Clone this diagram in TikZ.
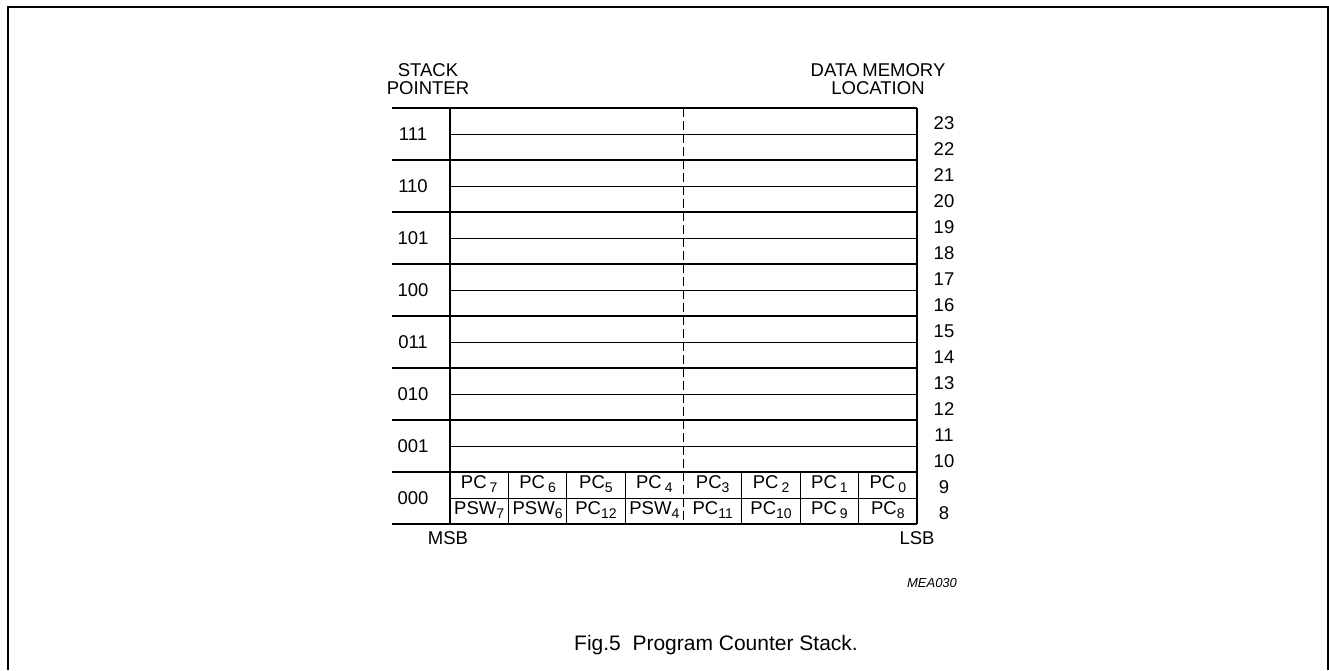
\documentclass[tikz,border=0pt]{standalone}
\usepackage{fontspec}
\setmainfont{Liberation Sans}
\usetikzlibrary{positioning}

\newcommand{\lblfont}{\fontsize{18.5}{18}\selectfont}
\newcommand{\cellfont}{\fontsize{18.5}{19}\selectfont}
\newcommand{\sbs}[1]{\raisebox{-0.4ex}{\fontsize{14}{14}\selectfont #1}}

\tikzset{
  grp/.style={line width=1.4pt},
  half/.style={line width=0.8pt},
  lbl/.style={font=\lblfont, inner sep=0pt},
  cell/.style={font=\cellfont, inner sep=0pt}
}

\begin{document}
\begin{tikzpicture}[x=1pt, y=-1pt]
  \useasboundingbox (0,0) rectangle (1329,670);
  % frame
  \draw[line width=2pt] (7.5,670) -- (7.5,6.5) -- (1327.5,6.5) -- (1327.5,670);

  % headings
  \node[lbl, align=center] (sp) at (428,79) {STACK\\POINTER};
  \node[lbl, align=center] (dml) at (878,79) {DATA MEMORY\\LOCATION};

  % stack rows
  \foreach \p [count=\i from 0] in {111,110,101,100,011,010,001,000} {
    \pgfmathsetmacro{\yt}{108+52*\i}
    \pgfmathtruncatemacro{\hi}{23-2*\i}
    \pgfmathtruncatemacro{\lo}{22-2*\i}
    \draw[grp] (392,\yt) -- (917,\yt);
    \draw[half] (450,\yt+26) -- (917,\yt+26);
    \node[lbl] (sp\i) at (413,\yt+26) {\p};
    \node[lbl] (hi\i) at (944,\yt+15) {\hi};
    \node[lbl] (lo\i) at (944,\yt+41) {\lo};
  }
  \draw[grp] (392,524) -- (917,524);
  \draw[grp] (450,108) -- (450,524);
  \draw[grp] (917,108) -- (917,524);
  \draw[half, dash pattern=on 9pt off 4pt] (683.5,108) -- (683.5,524);

  % register 000 cells
  \foreach \k in {1,2,3,5,6,7}
    \draw[half] (450+58.375*\k,472) -- (450+58.375*\k,524);
  \foreach \t [count=\k from 0] in {{PC\,\sbs{7}},{PC\,\sbs{6}},{PC\sbs{5}},{PC\,\sbs{4}},
      {PC\sbs{3}},{PC\,\sbs{2}},{PC\,\sbs{1}},{PC\,\sbs{0}}}
    \node[cell] (h\k) at (479.2+58.375*\k,484) {\t};
  \foreach \t [count=\k from 0] in {{PSW\sbs{7}},{PSW\sbs{6}},{PC\sbs{12}},{PSW\sbs{4}},
      {PC\sbs{11}},{PC\sbs{10}},{PC\,\sbs{9}},{PC\sbs{8}}}
    \node[cell] (l\k) at (479.2+58.375*\k,510) {\t};

  \node[lbl] (msb) at (448,538) {MSB};
  \node[lbl] (lsb) at (917,538) {LSB};
  \node[font=\fontsize{13}{15}\selectfont\itshape, inner sep=0pt] (ref) at (932,583) {MEA030};
  \node[font=\fontsize{21}{24}\selectfont, inner sep=0pt] (cap) at (716,645) {Fig.5\ \ Program Counter Stack.};
\end{tikzpicture}
\end{document}
